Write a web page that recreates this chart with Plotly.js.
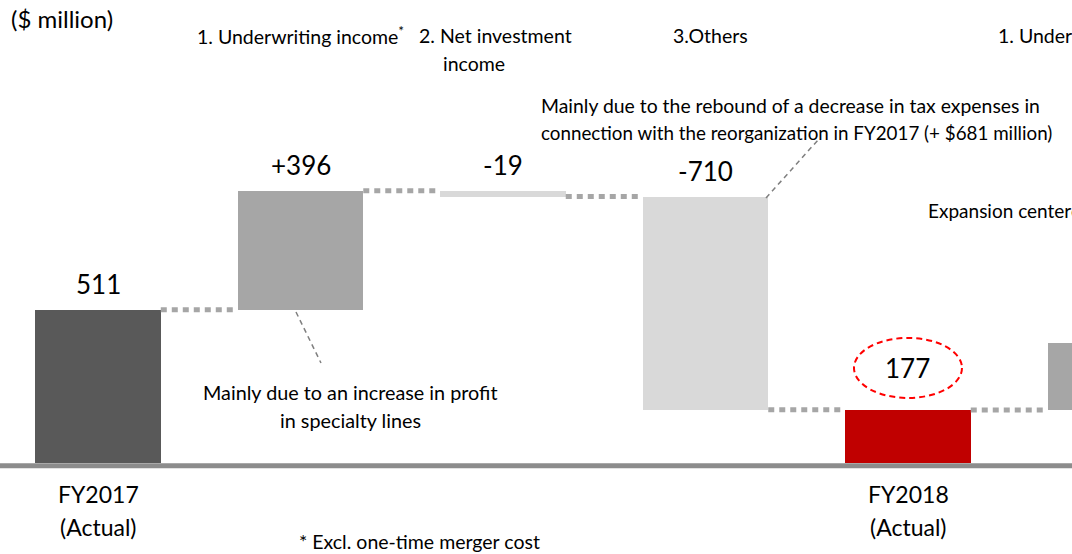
<!DOCTYPE html>
<html><head><meta charset="utf-8">
<script src="https://cdn.plot.ly/plotly-3.0.1.min.js"></script>
<style>html,body{margin:0;padding:0;background:#fff;}#chart{width:1072px;height:554px;}</style>
</head><body><div id="chart"></div>
<script>
// ---- data ----
const categories = ["FY2017 (Actual)", "1. Underwriting income", "2. Net investment income", "3.Others", "FY2018 (Actual)", "1. Underwriting income"];
const values = [511, 396, -19, -710, 177, 223];
const kinds = ["total", "delta", "delta", "delta", "total", "delta"];
const valueLabels = ["511", "+396", "-19", "-710", "177", "+223"];
const barColors = ["#595959", "#a6a6a6", "#d9d9d9", "#d9d9d9", "#c00000", "#a6a6a6"];

// ---- build waterfall geometry from the data ----
const W = 0.62;
const XR = [-0.484, 4.810];
const xs = categories.map((c, i) => i);
const bases = [], ends = [];
let running = 0;
values.forEach((v, i) => {
  if (kinds[i] === "total") { bases.push(0); running = v; }
  else { bases.push(running); running += v; }
  ends.push(running);
});
const tops = values.map((v, i) => Math.max(bases[i], bases[i] + v));

const traces = [{
  type: "bar", x: xs, y: values, base: bases, width: W,
  marker: { color: barColors, line: { width: 0 } },
  hoverinfo: "skip", showlegend: false
}];
// connectors
for (let i = 0; i < values.length - 1; i++) {
  traces.push({
    type: "scatter", mode: "lines",
    x: [xs[i] + W / 2, xs[i + 1] - W / 2], y: [ends[i], ends[i]],
    line: { color: "#a6a6a6", width: 5, dash: "6px,5px" },
    hoverinfo: "skip", showlegend: false
  });
}

const PW = 1072, PH = 554;
const px = v => v / PW, py = v => 1 - v / PH;
const F = "Lato, 'Open Sans', sans-serif";

const annotations = [];
// value labels (only those inside the visible range)
values.forEach((v, i) => {
  if (xs[i] > XR[1]) return;
  annotations.push({
    x: xs[i], y: tops[i], xref: "x", yref: "y", text: valueLabels[i],
    showarrow: false, yanchor: "middle", yshift: i === 4 ? 42 : 26,
    font: { family: F, size: 26, color: "#000" }
  });
});
function txt(t, x, y, size, align, xanchor) {
  annotations.push({ xref: "paper", yref: "paper", x: px(x), y: py(y), text: t, showarrow: false,
    xanchor: xanchor || "center", yanchor: "middle", align: align || "center",
    font: { family: F, size: size, color: "#000" } });
}
txt("($ million)", 9, 18, 24, "left", "left");
txt("1. Underwriting income<sup>*</sup>", 300, 35, 19.5);
txt("2. Net investment", 495, 35, 19.5);
txt("income", 474, 63, 19.5);
txt("3.Others", 710, 35, 19.5);
txt("1. Underwriting income", 996, 35, 19.5, "left", "left");
txt("Mainly due to the rebound of a decrease in tax expenses in", 539, 105, 19.4, "left", "left");
txt("connection with the reorganization in FY2017 (+ $681 million)", 539, 132, 18.8, "left", "left");
txt("Expansion centered", 926, 210, 19, "left", "left");
txt("Mainly due to an increase in profit", 350, 392, 19.8);
txt("in specialty lines", 350, 420, 19.8);
txt("FY2017", 98, 494, 23);
txt("(Actual)", 98, 527, 23);
txt("FY2018", 908, 494, 23);
txt("(Actual)", 908, 527, 23);
txt("* Excl. one-time merger cost", 419, 541, 19.5);

const shapes = [
  { type: "line", xref: "paper", yref: "y", x0: 0, x1: 1, y0: -9, y1: -9, line: { color: "#8c8c8c", width: 5 }, layer: "above" },
  { type: "line", xref: "paper", yref: "paper", x0: px(296), y0: py(312), x1: px(321), y1: py(363), line: { color: "#7f7f7f", width: 1.5, dash: "5px,4px" } },
  { type: "line", xref: "paper", yref: "paper", x0: px(766), y0: py(198), x1: px(818), y1: py(140), line: { color: "#7f7f7f", width: 1.5, dash: "5px,4px" } },
  { type: "circle", xref: "x", yref: "y", x0: xs[4] - 54 / 202.5, x1: xs[4] + 54 / 202.5, y0: tops[4] + 40, y1: tops[4] + 240, line: { color: "#ff0000", width: 2, dash: "6px,4px" } }
];

const layout = {
  width: PW, height: PH, margin: { l: 0, r: 0, t: 0, b: 0 },
  paper_bgcolor: "#fff", plot_bgcolor: "#fff",
  xaxis: { range: XR, visible: false, fixedrange: true },
  yaxis: { range: [-303, 1543], visible: false, fixedrange: true },
  annotations: annotations, shapes: shapes, showlegend: false, bargap: 0
};
Plotly.newPlot("chart", traces, layout, { staticPlot: true, displayModeBar: false });
</script></body></html>
